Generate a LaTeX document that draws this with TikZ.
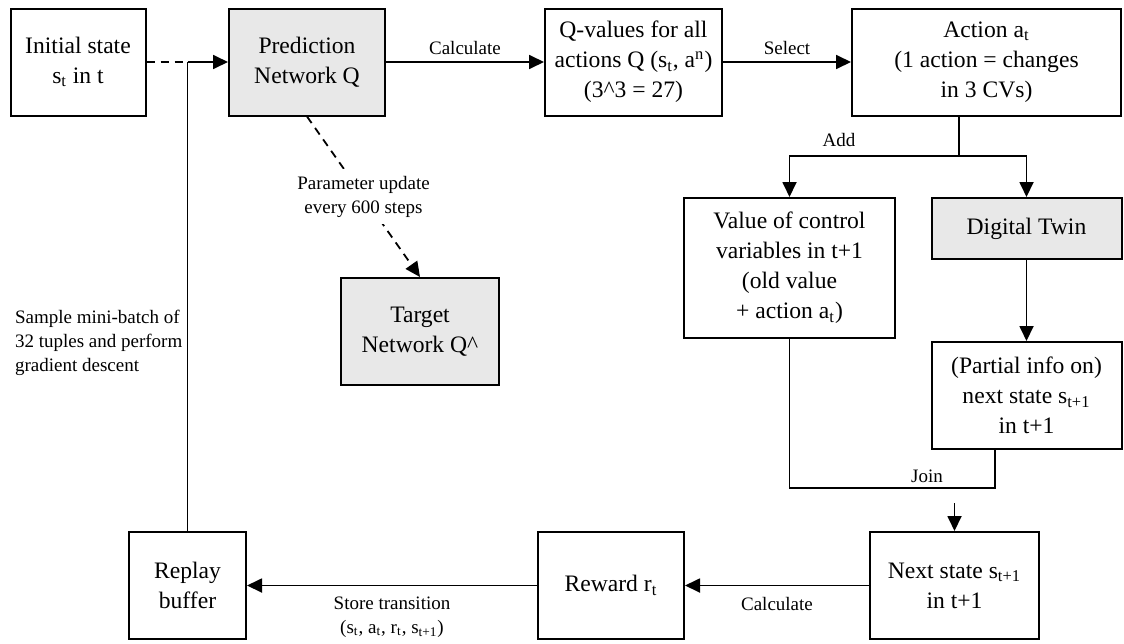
\documentclass[tikz,border=0pt]{standalone}
\usepackage{fontspec}
\setmainfont{Liberation Serif}
\usetikzlibrary{arrows.meta}
\definecolor{boxgray}{RGB}{232,232,232}
\tikzstyle{box}=[draw, line width=1pt, align=center, inner sep=2pt, minimum height=53.5pt, font=\rmfamily\fontsize{11.8}{15}\selectfont]
\tikzstyle{graybox}=[box, fill=boxgray]
\tikzstyle{flow}=[-{Triangle[length=7.5pt,width=7pt]}, line width=0.9pt]
\tikzstyle{dashedflow}=[flow, dash pattern=on 4pt off 3pt]
\tikzstyle{edgelabel}=[font=\rmfamily\fontsize{9.5}{12}\selectfont, align=center]
\newcommand{\sub}[1]{\textsubscript{#1}}

\begin{document}
\begin{tikzpicture}[x=0.5pt,y=-0.5pt]
  \useasboundingbox (0,0) rectangle (1124,643);
  % top row
  \node[box, minimum width=67.5pt] (init) at (78,62) {Initial state\\s\sub{t} in t};
  \node[graybox, minimum width=78pt] (pred) at (307,62) {Prediction\\Network Q};
  \node[box, minimum width=88.5pt] (qval) at (633.5,62) {Q-values for all\\actions Q (s\sub{t}, a\textsuperscript{n})\\(3\textasciicircum 3 = 27)};
  \node[box, minimum width=134.5pt] (action) at (986.5,62) {Action a\sub{t}\\(1 action = changes\\in 3 CVs)};
  % middle
  \node[graybox, minimum width=79pt] (target) at (420,331.5) {Target\\Network Q\textasciicircum};
  \node[box, minimum width=105.5pt, minimum height=70pt] (value) at (789.5,268) {Value of control\\variables in t+1\\(old value\\+ action a\sub{t})};
  \node[graybox, minimum width=95pt, minimum height=30.5pt] (twin) at (1026.5,228.5) {Digital Twin};
  \node[box, minimum width=95pt] (part) at (1026.5,395.5) {(Partial info on)\\next state s\sub{t+1}\\in t+1};
  % bottom row
  \node[box, minimum width=84.5pt] (next) at (954.5,585.5) {Next state s\sub{t+1}\\in t+1};
  \node[box, minimum width=73pt] (reward) at (611,585.5) {Reward r\sub{t}};
  \node[box, minimum width=58.5pt] (replay) at (187.5,585.5) {Replay\\buffer};
  \node[edgelabel, align=left, anchor=west] (sample) at (8,343) {Sample mini-batch of\\32 tuples and perform\\gradient descent};

  \coordinate (merge) at (187.5,62);
  \coordinate (split) at (959,156);
  \coordinate (join) at (995,488);
  \coordinate (joinout) at (954.5,503);

  \draw[line width=0.9pt, dash pattern=on 4pt off 3pt] (init) -- (merge);
  \draw[flow] (merge) -- (pred);
  \draw[line width=0.9pt] (replay) -- (merge);
  \draw[flow] (pred) -- node[edgelabel, above] (calc1) {Calculate} (qval);
  \draw[flow] (qval) -- node[edgelabel, above] (sel) {Select} (action);
  \draw[dashedflow] (pred.south) -- node[edgelabel, fill=white, pos=0.5] (upd) {Parameter update\\every 600 steps} (target.north);
  \draw[line width=0.9pt] (split |- action.south) -- (split);
  \draw[flow] (split) -| (value.north);
  \draw[flow] (split) -| (twin.north);
  \node[edgelabel] (add) at (839,140) {Add};
  \draw[flow] (twin) -- (part);
  \draw[line width=0.9pt] (value.south) |- (join) -- (join |- part.south);
  \node[edgelabel] (joinlbl) at (927,476) {Join};
  \draw[flow] (joinout) -- (next.north);
  \draw[flow] (next) -- node[edgelabel, below=2pt] (calc2) {Calculate} (reward);
  \draw[flow] (reward) -- node[edgelabel, below=2pt] (store) {Store transition\\(s\sub{t}, a\sub{t}, r\sub{t}, s\sub{t+1})} (replay);
\end{tikzpicture}
\end{document}
